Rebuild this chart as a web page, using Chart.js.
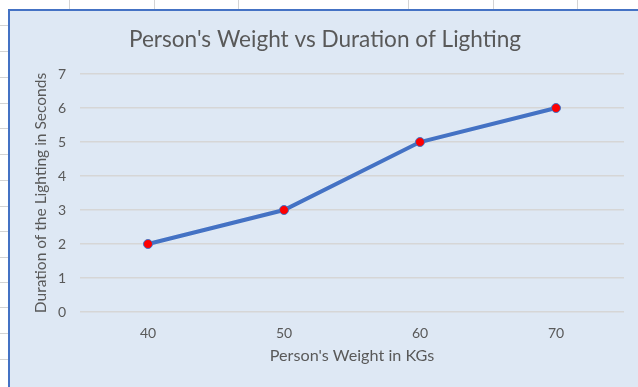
<!DOCTYPE html>
<html>
<head>
<meta charset="utf-8">
<script src="https://cdn.jsdelivr.net/npm/chart.js@4.4.1/dist/chart.umd.min.js"></script>
<style>
  html, body { margin: 0; padding: 0; background: #ffffff; width: 638px; height: 387px; overflow: hidden; }
  .vl { position: absolute; top: 0; width: 1px; height: 10px; background: #d4d4d4; }
  .hl { position: absolute; left: 0; width: 9px; height: 1px; background: #d4d4d4; }
  #box { position: absolute; left: 8px; top: 9px; width: 630px; height: 378px; background: #dee8f4;
         border-left: 2px solid #4472c4; border-top: 2px solid #4472c4; box-sizing: border-box; }
  #wrap { position: absolute; left: 0; top: 0; width: 628px; height: 376px; }
</style>
</head>
<body>
<div class="vl" style="left:69px"></div>
<div class="vl" style="left:154px"></div>
<div class="vl" style="left:238px"></div>
<div class="vl" style="left:408px"></div>
<div class="vl" style="left:493px"></div>
<div class="vl" style="left:577px"></div>
<div class="hl" style="top:25px"></div>
<div class="hl" style="top:51px"></div>
<div class="hl" style="top:77px"></div>
<div class="hl" style="top:103px"></div>
<div class="hl" style="top:128px"></div>
<div class="hl" style="top:154px"></div>
<div class="hl" style="top:180px"></div>
<div class="hl" style="top:206px"></div>
<div class="hl" style="top:231px"></div>
<div class="hl" style="top:257px"></div>
<div class="hl" style="top:282px"></div>
<div class="hl" style="top:307px"></div>
<div class="hl" style="top:333px"></div>
<div class="hl" style="top:359px"></div>
<div id="box"><div id="wrap"><canvas id="c" width="628" height="376"></canvas></div></div>
<script>
const weights = ["40", "50", "60", "70"];
const durations = [2, 3, 5, 6];
const chartTitle = "Person's Weight vs Duration of Lighting";
const xTitle = "Person's Weight in KGs";
const yTitle = "Duration of the Lighting in Seconds";

const FONT = "Lato, 'Open Sans', sans-serif";
const TXT = "#595959";

new Chart(document.getElementById('c'), {
  type: 'line',
  data: {
    labels: weights,
    datasets: [{
      data: durations,
      borderColor: '#4472c4',
      borderWidth: 4,
      backgroundColor: '#ff0000',
      pointBackgroundColor: '#ff0000',
      pointBorderColor: '#4472c4',
      pointBorderWidth: 1,
      pointRadius: 4.5,
      tension: 0,
      fill: false
    }]
  },
  options: {
    responsive: false,
    animation: false,
    layout: { padding: { left: 16, right: 14, top: 0, bottom: 0 } },
    plugins: {
      legend: { display: false },
      tooltip: { enabled: false },
      title: {
        display: true,
        text: chartTitle,
        color: TXT,
        font: { family: FONT, size: 22.6, weight: 'normal' },
        padding: { top: 15, bottom: 20.9 }
      }
    },
    scales: {
      x: {
        type: 'category',
        offset: true,
        grid: { display: false, drawTicks: false },
        border: { display: false },
        ticks: { color: TXT, font: { family: FONT, size: 14 }, padding: 13 },
        title: { display: true, text: xTitle, color: TXT, font: { family: FONT, size: 16.2 }, padding: { top: 6, bottom: 22 } },
        afterFit: (s) => { s.height = 75; }
      },
      y: {
        min: 0, max: 7,
        ticks: { stepSize: 1, color: TXT, font: { family: FONT, size: 14 }, padding: 14 },
        grid: { color: '#d6d6d6', lineWidth: 1.5, drawTicks: false },
        border: { display: false },
        title: { display: true, text: yTitle, color: TXT, font: { family: FONT, size: 15.5 }, padding: { top: 6, bottom: 0 } },
        afterFit: (s) => { s.width = 54; }
      }
    }
  }
});
</script>
</body>
</html>
